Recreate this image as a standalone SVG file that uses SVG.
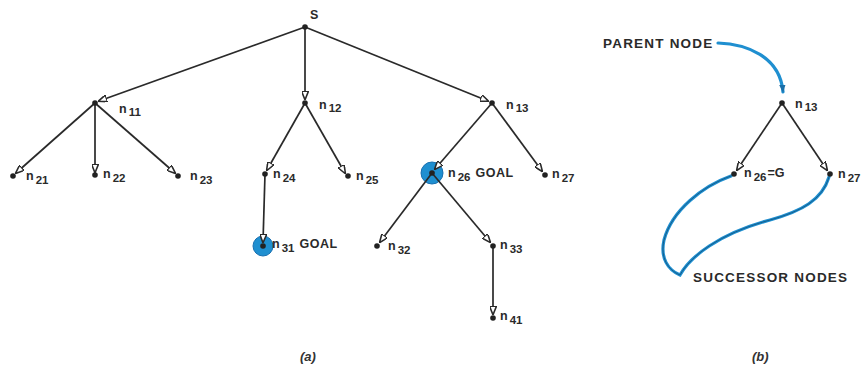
<svg xmlns="http://www.w3.org/2000/svg" width="865" height="373" viewBox="0 0 865 373">
<defs>
<style>
.e{stroke:#2a2a2a;stroke-width:1.7;fill:none;marker-end:url(#ah)}
.d{fill:#222}
.t{font-family:"Liberation Sans",Arial,sans-serif;font-weight:bold;font-size:12.5px;fill:#2a2a2a}
.s{font-size:11.5px}
.w{font-size:12.5px;letter-spacing:0.5px}
.big{font-family:"Liberation Sans",Arial,sans-serif;font-weight:bold;font-size:13.5px;fill:#2a2a2a;letter-spacing:1.2px}
.cap{font-family:"Liberation Sans",Arial,sans-serif;font-style:italic;font-weight:bold;font-size:13px;fill:#333}
.g{fill:#1f8fd0;stroke:#1a70b0;stroke-width:1}
.b{fill:none;stroke:#1f8fd0;stroke-width:3.2;stroke-linecap:round}
</style>
<marker id="ah" viewBox="0 0 10 8" refX="9" refY="4" markerWidth="9" markerHeight="7" orient="auto" markerUnits="userSpaceOnUse">
<path d="M0,0 L10,4 L0,8 z" fill="#fff" stroke="#2a2a2a" stroke-width="1.8"/>
</marker>
<marker id="bh" viewBox="0 0 10 8" refX="9" refY="4" markerWidth="8" markerHeight="6.4" orient="auto" markerUnits="userSpaceOnUse">
<path d="M0,0 L10,4 L0,8 z" fill="#1a6fa8"/>
</marker>
</defs>
<rect width="865" height="373" fill="#fff"/>
<g id="highlights">
<circle class="g" cx="432" cy="173" r="11"/>
<circle class="g" cx="263" cy="246" r="10"/>
</g>
<g id="connectors">
<line class="e" x1="305" y1="27" x2="99" y2="101"/>
<line class="e" x1="305" y1="27" x2="305" y2="99"/>
<line class="e" x1="305" y1="27" x2="488" y2="101"/>
<line class="e" x1="95" y1="103" x2="16" y2="173"/>
<line class="e" x1="95" y1="103" x2="95" y2="172"/>
<line class="e" x1="95" y1="103" x2="175" y2="173"/>
<line class="e" x1="305" y1="103" x2="267" y2="170"/>
<line class="e" x1="305" y1="103" x2="345" y2="173"/>
<line class="e" x1="492" y1="103" x2="435" y2="169"/>
<line class="e" x1="492" y1="103" x2="542" y2="171"/>
<line class="e" x1="265" y1="174" x2="263" y2="242"/>
<line class="e" x1="432" y1="173" x2="380" y2="242"/>
<line class="e" x1="432" y1="173" x2="490" y2="242"/>
<line class="e" x1="493" y1="246" x2="493" y2="314"/>
<line class="e" x1="782" y1="103" x2="737" y2="170"/>
<line class="e" x1="782" y1="103" x2="827" y2="170"/>
<path class="b" d="M718,43 C746,44 780,56 783,92" marker-end="url(#bh)"/>
<path class="b" d="M731,176 C703,186 672,210 664,240 C660,258 668,270 680,275 C690,257 718,234 770,220 C802,211 822,200 829,177"/>
<path d="M731,176 C703,186 672,210 664,240 C660,258 668,270 680,275 C690,257 718,234 770,220 C802,211 822,200 829,177" fill="none" stroke="#13507a" stroke-width="0.8"/>
</g>
<g id="S"><circle class="d" cx="305" cy="27" r="2.8"/><text class="t" x="310" y="19">S</text></g>
<g id="n11"><circle class="d" cx="95" cy="103" r="2.8"/><text class="t" x="119" y="113">n<tspan class="s" dx="2" dy="3">11</tspan></text></g>
<g id="n12"><circle class="d" cx="305" cy="103" r="2.8"/><text class="t" x="319" y="109">n<tspan class="s" dx="2" dy="3">12</tspan></text></g>
<g id="n13"><circle class="d" cx="492" cy="103" r="2.8"/><text class="t" x="506" y="109">n<tspan class="s" dx="2" dy="3">13</tspan></text></g>
<g id="n21"><circle class="d" cx="13" cy="176" r="2.8"/><text class="t" x="26" y="180">n<tspan class="s" dx="2" dy="4">21</tspan></text></g>
<g id="n22"><circle class="d" cx="95" cy="175" r="2.8"/><text class="t" x="103" y="178">n<tspan class="s" dx="2" dy="4">22</tspan></text></g>
<g id="n23"><circle class="d" cx="178" cy="176" r="2.8"/><text class="t" x="190" y="180">n<tspan class="s" dx="2" dy="4">23</tspan></text></g>
<g id="n24"><circle class="d" cx="265" cy="174" r="2.8"/><text class="t" x="273" y="178">n<tspan class="s" dx="2" dy="4">24</tspan></text></g>
<g id="n25"><circle class="d" cx="348" cy="176" r="2.8"/><text class="t" x="356" y="180">n<tspan class="s" dx="2" dy="4">25</tspan></text></g>
<g id="n26"><circle class="d" cx="432" cy="173" r="2.8"/><text class="t" x="448" y="177">n<tspan class="s" dx="2" dy="4">26</tspan><tspan class="w" dx="5" dy="-4">GOAL</tspan></text></g>
<g id="n27"><circle class="d" cx="545" cy="175" r="2.8"/><text class="t" x="552" y="178">n<tspan class="s" dx="2" dy="4">27</tspan></text></g>
<g id="n31"><circle class="d" cx="263" cy="246" r="2.8"/><text class="t" x="272" y="248">n<tspan class="s" dx="2" dy="4">31</tspan><tspan class="w" dx="5" dy="-4">GOAL</tspan></text></g>
<g id="n32"><circle class="d" cx="377" cy="246" r="2.8"/><text class="t" x="388" y="250">n<tspan class="s" dx="2" dy="4">32</tspan></text></g>
<g id="n33"><circle class="d" cx="493" cy="246" r="2.8"/><text class="t" x="500" y="249">n<tspan class="s" dx="2" dy="4">33</tspan></text></g>
<g id="n41"><circle class="d" cx="493" cy="318" r="2.8"/><text class="t" x="500" y="320">n<tspan class="s" dx="2" dy="4">41</tspan></text></g>
<g id="b_n13"><circle class="d" cx="782" cy="103" r="2.8"/><text class="t" x="795" y="108">n<tspan class="s" dx="2" dy="3">13</tspan></text></g>
<g id="b_n26"><circle class="d" cx="734" cy="174" r="2.8"/><text class="t" x="744" y="177">n<tspan class="s" dx="2" dy="4">26</tspan><tspan dx="1" dy="-4">=G</tspan></text></g>
<g id="b_n27"><circle class="d" cx="830" cy="174" r="2.8"/><text class="t" x="838" y="178">n<tspan class="s" dx="2" dy="4">27</tspan></text></g>
<g id="labels">
<text class="big" x="603" y="48">PARENT NODE</text>
<text class="big" x="693" y="282">SUCCESSOR NODES</text>
<text class="cap" x="300" y="361">(a)</text>
<text class="cap" x="752" y="361">(b)</text>
</g>
</svg>
